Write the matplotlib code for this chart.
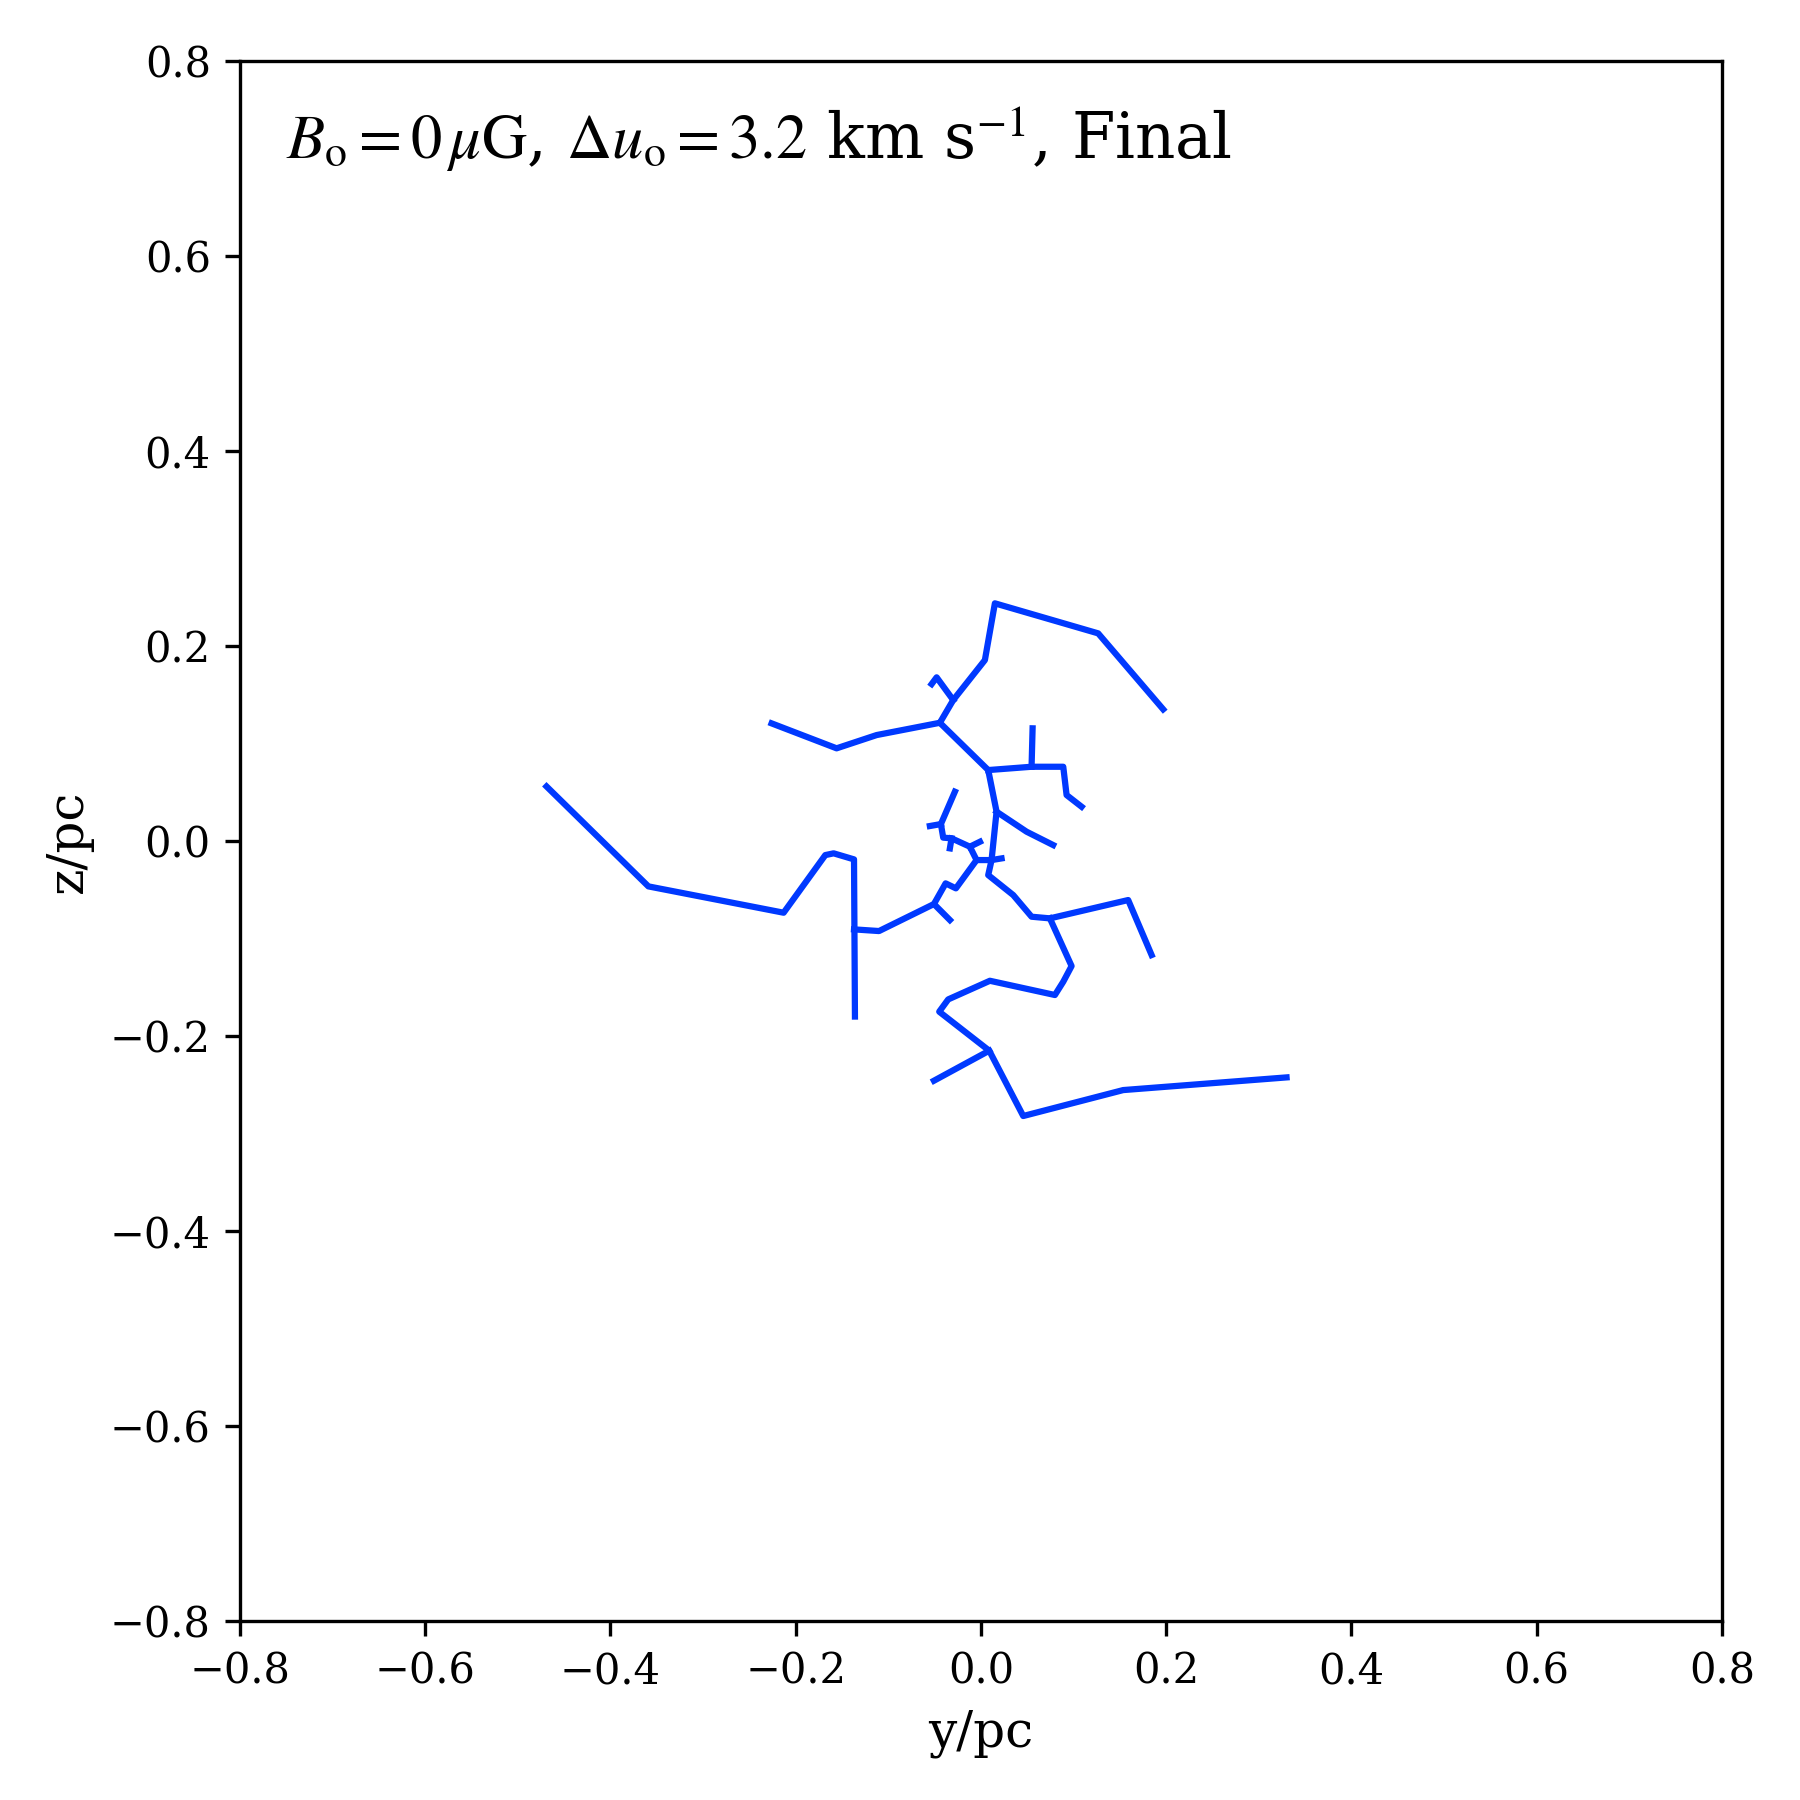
import matplotlib
matplotlib.use("Agg")
import matplotlib.pyplot as plt

plt.rcParams['font.family'] = 'DejaVu Serif'
plt.rcParams['mathtext.fontset'] = 'stix'

# Filament tree branches (y, z in pc), one list per polyline.
branch_y = [
    [-0.469, -0.359, -0.213, -0.168, -0.159, -0.137, -0.136],
    [-0.137, -0.110, -0.0507, -0.0381, -0.027, -0.0047, -0.0119, -0.0317, -0.0407, -0.0432, -0.0281],
    [-0.0507, -0.0335],
    [-0.0432, -0.0551],
    [-0.0317, -0.0335],
    [-0.0119, -0.001],
    [-0.0047, 0.0115, 0.0223],
    [-0.0443, 0.0079, 0.0169, 0.0115, 0.0079, 0.0349, 0.0547, 0.0745, 0.159, 0.1843],
    [0.0745, 0.0979, 0.0889, 0.0799, 0.0097, -0.0353, -0.045, 0.009, 0.0457, 0.1536, 0.33],
    [0.009, -0.0507],
    [0.0169, 0.0493, 0.078],
    [0.0079, 0.0547, 0.0889, 0.0925, 0.1087],
    [0.0547, 0.0558],
    [-0.0443, -0.0299, 0.0043, 0.0151, 0.1266, 0.1968],
    [-0.0299, -0.0478, -0.0532],
    [-0.0443, -0.1126, -0.1558, -0.226],
]
branch_z = [
    [0.056, -0.0465, -0.0735, -0.0144, -0.0126, -0.0188, -0.180],
    [-0.0906, -0.0923, -0.0646, -0.0434, -0.0485, -0.0195, -0.0058, 0.0028, 0.0035, 0.0174, 0.0506],
    [-0.0646, -0.081],
    [0.0174, 0.0154],
    [0.0028, -0.0075],
    [-0.0058, -0.0007],
    [-0.0195, -0.0195, -0.0178],
    [0.1213, 0.0728, 0.0301, -0.0195, -0.0349, -0.0554, -0.0776, -0.0793, -0.0605, -0.1169],
    [-0.0793, -0.1282, -0.1443, -0.1579, -0.1433, -0.1624, -0.175, -0.215, -0.282, -0.2554, -0.2424],
    [-0.215, -0.2458],
    [0.0301, 0.0096, -0.0041],
    [0.0728, 0.0762, 0.0762, 0.0472, 0.0352],
    [0.0762, 0.1156],
    [0.1213, 0.1446, 0.1856, 0.2438, 0.213, 0.1351],
    [0.1446, 0.1679, 0.161],
    [0.1213, 0.1087, 0.0951, 0.1207],
]

ticks = [-0.8, -0.6, -0.4, -0.2, 0.0, 0.2, 0.4, 0.6, 0.8]

fig = plt.figure(figsize=(6, 6), dpi=300)
ax = fig.add_axes([0.1333, 0.0994, 0.8233, 0.8667])

for ys, zs in zip(branch_y, branch_z):
    ax.plot(ys, zs, color='#0039ff', lw=1.5)

ax.set_xlim(-0.8, 0.8)
ax.set_ylim(-0.8, 0.8)
ax.set_xticks(ticks)
ax.set_yticks(ticks)
ax.tick_params(labelsize=10)
ax.set_xlabel('y/pc', fontsize=12)
ax.set_ylabel('z/pc', fontsize=12)

ax.text(-0.75, 0.70,
        r'$B_{\rm o}=0\,\mu{\rm G}$, $\Delta u_{\rm o}=3.2$ km s$^{-1}$, Final',
        fontsize=15, ha='left', va='baseline')

fig.savefig('out.png', dpi=300)
